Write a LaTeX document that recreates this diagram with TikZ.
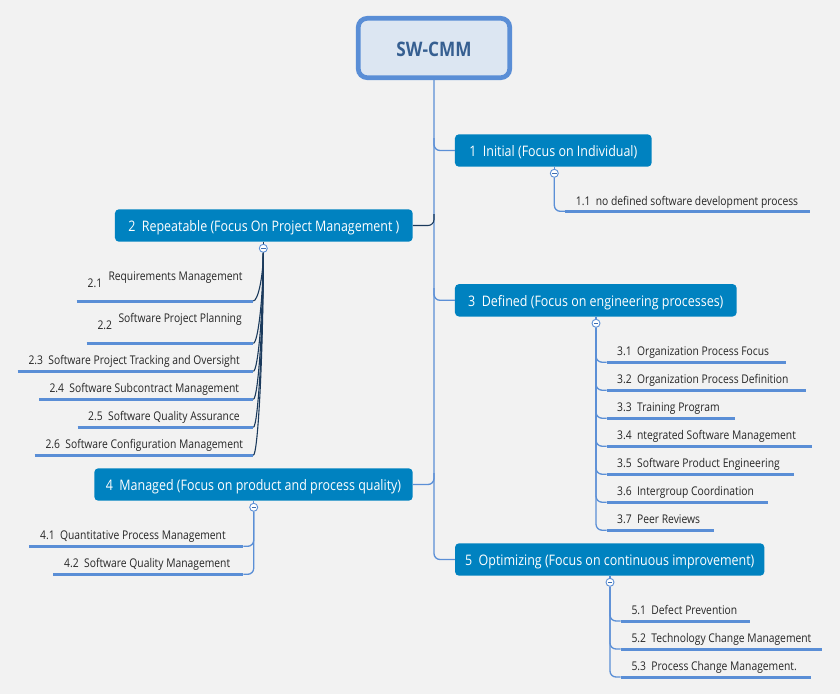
\documentclass[tikz,border=0pt]{standalone}
\usepackage{fontspec}
\setmainfont{Open Sans}[FakeStretch=0.86]
\definecolor{bgc}{HTML}{F2F2F2}
\definecolor{branchc}{HTML}{0082C0}
\definecolor{rootb}{HTML}{5A8ED6}
\definecolor{rootf}{HTML}{DCE6F2}
\definecolor{roott}{HTML}{365F91}
\definecolor{linec}{HTML}{5B8FD6}
\definecolor{ulc}{HTML}{5A8ED6}
\definecolor{darkc}{HTML}{1B3A5C}
\definecolor{leafc}{HTML}{262626}
\definecolor{togc}{HTML}{3D6DB0}
\begin{document}
\begin{tikzpicture}[x=1pt,y=-1pt,
  conn/.style={draw=linec, line width=1.3pt, rounded corners=6pt},
  darkconn/.style={draw=darkc, line width=1.1pt},
  uline/.style={draw=ulc, line width=3pt},
  branch/.style={fill=branchc, text=white, rounded corners=4pt, minimum height=32.4pt, font=\fontsize{14.5}{17}\selectfont, inner sep=0pt, text height=12.2pt, text depth=0pt},
  leaf/.style={anchor=base west, inner sep=0pt, text=leafc, font=\fontsize{12}{14}\selectfont},
  toggle/.style={circle, draw=linec, fill=white, line width=0.9pt, minimum size=8pt, inner sep=0pt,
    path picture={\draw[togc, line width=0.8pt] ([xshift=-2.2pt]path picture bounding box.center) -- ([xshift=2.2pt]path picture bounding box.center);}}
]
\fill[bgc] (0,0) rectangle (840,694);
\useasboundingbox (0,0) rectangle (840,694);

% root
\node[draw=rootb, line width=4.7pt, fill=rootf, rounded corners=9pt, minimum width=151.5pt, minimum height=59.4pt, inner sep=0pt, text height=17.4pt, text depth=0pt, text=roott, font=\bfseries\fontsize{20}{24}\selectfont] (root) at (434,48) {SW-CMM};

% branches
\node[branch, minimum width=196.7pt] (n1) at (553.3,150.5) {1~~Initial (Focus on Individual)};
\node[branch, minimum width=297.7pt] (n2) at (263.8,225.5) {2~~Repeatable (Focus On Project Management )};
\node[branch, minimum width=281.7pt] (n3) at (595.8,300.3) {3~~Defined (Focus on engineering processes)};
\node[branch, minimum width=318.4pt] (n4) at (253.5,484.5) {4~~Managed (Focus on product and process quality)};
\node[branch, minimum width=309.3pt] (n5) at (609.7,559.5) {5~~Optimizing (Focus on continuous improvement)};

% spine and branch connectors
\coordinate (s1) at (434,138);
\coordinate (s3) at (434,288);
\coordinate (s2) at (434,214);
\coordinate (s4) at (434,473);
\draw[conn] (root.south) |- (n5.west);
\draw[conn] (s1) |- (n1.west);
\draw[conn] (s3) |- (n3.west);
\draw[conn] (n4.east) -| (s4);
\draw[darkconn, rounded corners=6pt] (n2.east) -| (s2);

% toggles
\node[toggle] (c1) at (554.3,173.3) {};
\node[toggle] (c2) at (263.3,248.3) {};
\node[toggle] (c3) at (596,323.3) {};
\node[toggle] (c4) at (253.7,507.3) {};
\node[toggle] (c5) at (610,582.3) {};
\draw[conn] (n1.south -| c1) -- (c1.north);
\draw[darkconn] (n2.south -| c2) -- (c2.north);
\draw[conn] (n3.south -| c3) -- (c3.north);
\draw[conn] (n4.south -| c4) -- (c4.north);
\draw[conn] (n5.south -| c5) -- (c5.north);

% group 1
\node[leaf] (l11) at (575.7,205) {1.1~~no defined software development process};
\coordinate (a11) at (565,211.3);
\coordinate (b11) at (810,211.3);
\draw[conn] (c1.south) |- (a11);
\draw[uline] (a11) -- (b11);

% group 2
\node[leaf] (l21n) at (87.5,287.3) {2.1};
\node[leaf] (l21) at (108.3,280.3) {Requirements Management};
\node[leaf] (l22n) at (97.3,329) {2.2};
\node[leaf] (l22) at (118.3,322.3) {Software Project Planning};
\node[leaf] (l23) at (28.3,364.3) {2.3~~Software Project Tracking and Oversight};
\node[leaf] (l24) at (49.3,392.3) {2.4~~Software Subcontract Management};
\node[leaf] (l25) at (88,420.3) {2.5~~Software Quality Assurance};
\node[leaf] (l26) at (45.3,448.3) {2.6~~Software Configuration Management};
\coordinate (a21) at (76.7,301);   \coordinate (b21) at (253.3,301);
\coordinate (a22) at (86.7,343.3); \coordinate (b22) at (253.3,343.3);
\coordinate (a23) at (17.7,371.3); \coordinate (b23) at (253.3,371.3);
\coordinate (a24) at (39,399.3);   \coordinate (b24) at (253.3,399.3);
\coordinate (a25) at (77.7,427.3); \coordinate (b25) at (253.3,427.3);
\coordinate (a26) at (34.7,455.3); \coordinate (b26) at (253.3,455.3);
\draw[darkconn] (c2.south) .. controls (263.3,276) and (258,301) .. (b21);
\draw[darkconn] (c2.south) .. controls (263.3,297) and (258,343.3) .. (b22);
\draw[darkconn] (c2.south) .. controls (263.3,311) and (258,371.3) .. (b23);
\draw[darkconn] (c2.south) .. controls (263.3,325) and (258,399.3) .. (b24);
\draw[darkconn] (c2.south) .. controls (263.3,339) and (258,427.3) .. (b25);
\draw[darkconn] (c2.south) .. controls (263.3,353) and (258,455.3) .. (b26);
\foreach \k in {1,...,6}{\draw[uline] (a2\k) -- (b2\k);}

% group 3
\foreach \k/\t/\e in {1/Organization Process Focus/785.7, 2/Organization Process Definition/805.7, 3/Training Program/735, 4/ntegrated Software Management/811.7, 5/Software Product Engineering/794, 6/Intergroup Coordination/768, 7/Peer Reviews/714}{
  \pgfmathsetmacro\yy{362.2+28*(\k-1)}
  \node[leaf] (l3\k) at (617,\yy-7) {3.\k~~\t};
  \coordinate (a3\k) at (606.5,\yy);
  \coordinate (b3\k) at (\e,\yy);
  \draw[conn] (c3.south) |- (a3\k);
  \draw[uline] (a3\k) -- (b3\k);
}

% group 4
\node[leaf] (l41) at (40,539.3) {4.1~~Quantitative Process Management};
\node[leaf] (l42) at (64,567.3) {4.2~~Software Quality Management};
\coordinate (a41) at (29.3,546.3); \coordinate (b41) at (243.3,546.3);
\coordinate (a42) at (53.3,574.3); \coordinate (b42) at (243.3,574.3);
\draw[conn] (c4.south) |- (b41);
\draw[conn] (c4.south) |- (b42);
\draw[uline] (a41) -- (b41);
\draw[uline] (a42) -- (b42);

% group 5
\foreach \k/\t/\e in {1/Defect Prevention/750.3, 2/Technology Change Management/822.3, 3/Process Change Management./811.3}{
  \pgfmathsetmacro\yy{621+28*(\k-1)}
  \node[leaf] (l5\k) at (631.3,\yy-7) {5.\k~~\t};
  \coordinate (a5\k) at (620.7,\yy);
  \coordinate (b5\k) at (\e,\yy);
  \draw[conn] (c5.south) |- (a5\k);
  \draw[uline] (a5\k) -- (b5\k);
}
\end{tikzpicture}
\end{document}
